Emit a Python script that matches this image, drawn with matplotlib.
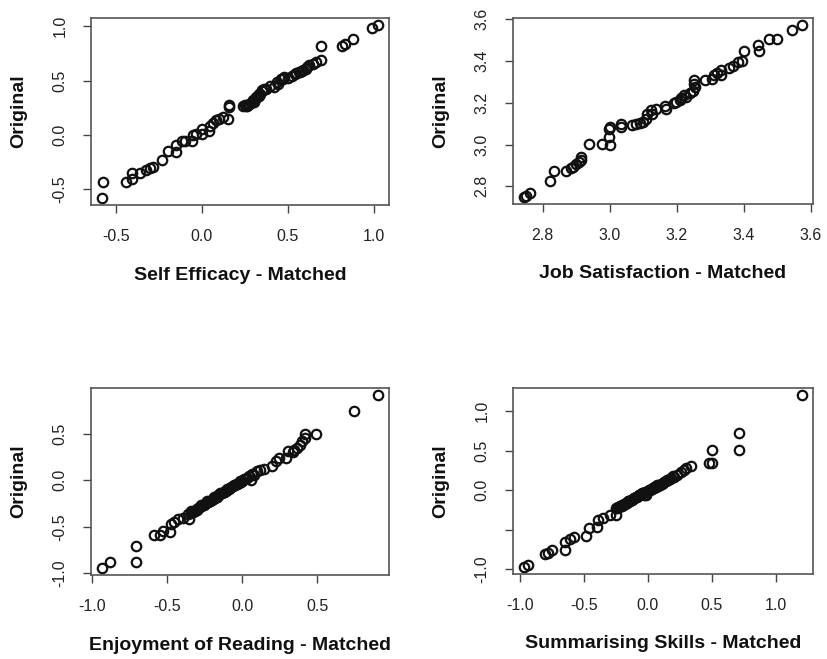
import matplotlib
matplotlib.use("Agg")
import matplotlib.pyplot as plt

plt.rcParams["font.family"] = ["Liberation Sans", "DejaVu Sans"]
plt.rcParams["axes.unicode_minus"] = False

# Self Efficacy
se_matched = [-0.579, -0.573, -0.442, -0.403, -0.403, -0.357, -0.322, -0.303, -0.284, -0.232,
              -0.197, -0.149, -0.149, -0.114, -0.095, -0.056, -0.052, -0.033, 0.002, 0.002,
              0.041, 0.048, 0.064, 0.083, 0.102, 0.122, 0.153, 0.156, 0.156, 0.237,
              0.250, 0.257, 0.270, 0.276, 0.290, 0.295, 0.300, 0.310, 0.315, 0.320,
              0.330, 0.334, 0.349, 0.350, 0.360, 0.373, 0.396, 0.421, 0.436, 0.440,
              0.459, 0.470, 0.479, 0.500, 0.523, 0.542, 0.550, 0.562, 0.570, 0.581,
              0.590, 0.604, 0.610, 0.624, 0.643, 0.662, 0.693, 0.691, 0.817, 0.830,
              0.878, 0.990, 1.023, 0.262, 0.283, 0.305, 0.340]
se_original = [-0.583, -0.433, -0.439, -0.408, -0.353, -0.353, -0.322, -0.304, -0.301, -0.236,
               -0.150, -0.163, -0.095, -0.055, -0.055, -0.055, 0.000, 0.006, 0.006, 0.052,
               0.037, 0.083, 0.113, 0.138, 0.144, 0.160, 0.150, 0.252, 0.273, 0.261,
               0.270, 0.267, 0.278, 0.282, 0.300, 0.313, 0.320, 0.330, 0.344, 0.350,
               0.360, 0.374, 0.414, 0.400, 0.420, 0.426, 0.451, 0.436, 0.482, 0.470,
               0.512, 0.510, 0.528, 0.520, 0.537, 0.558, 0.570, 0.580, 0.580, 0.589,
               0.600, 0.604, 0.620, 0.641, 0.650, 0.672, 0.690, 0.819, 0.819, 0.834,
               0.880, 0.988, 1.012, 0.262, 0.290, 0.300, 0.372]

# Job Satisfaction
js_matched = [2.745, 2.750, 2.764, 2.822, 2.835, 2.871, 2.884, 2.891, 2.901, 2.909,
              2.914, 2.916, 2.938, 2.978, 3.000, 2.998, 2.998, 3.000, 3.033, 3.033,
              3.068, 3.080, 3.089, 3.099, 3.107, 3.111, 3.124, 3.127, 3.139, 3.164,
              3.167, 3.192, 3.199, 3.209, 3.214, 3.221, 3.228, 3.238, 3.248, 3.253,
              3.250, 3.250, 3.283, 3.306, 3.310, 3.320, 3.332, 3.332, 3.355, 3.367,
              3.382, 3.394, 3.400, 3.441, 3.444, 3.474, 3.499, 3.545, 3.573]
js_original = [2.748, 2.752, 2.767, 2.825, 2.875, 2.875, 2.889, 2.894, 2.905, 2.914,
               2.925, 2.941, 3.002, 3.002, 3.000, 3.037, 3.073, 3.084, 3.084, 3.100,
               3.095, 3.100, 3.105, 3.108, 3.124, 3.148, 3.163, 3.148, 3.168, 3.184,
               3.171, 3.200, 3.203, 3.211, 3.222, 3.238, 3.227, 3.248, 3.254, 3.275,
               3.290, 3.311, 3.311, 3.314, 3.333, 3.343, 3.359, 3.333, 3.365, 3.378,
               3.394, 3.400, 3.448, 3.478, 3.446, 3.505, 3.505, 3.549, 3.573]

# Enjoyment of Reading
er_matched = [-0.934, -0.878, -0.708, -0.708, -0.586, -0.546, -0.531, -0.482, -0.476, -0.454,
              -0.431, -0.398, -0.354, -0.365, -0.340, -0.330, -0.318, -0.305, -0.296, -0.285,
              -0.272, -0.262, -0.250, -0.240, -0.228, -0.216, -0.205, -0.195, -0.182, -0.170,
              -0.160, -0.148, -0.136, -0.124, -0.112, -0.100, -0.088, -0.075, -0.062, -0.050,
              -0.038, -0.025, -0.012, 0.000, 0.015, 0.030, 0.044, 0.055, 0.066, 0.100,
              0.144, 0.199, 0.221, 0.243, 0.294, 0.303, 0.343, 0.365, 0.383, 0.398,
              0.414, 0.416, 0.491, 0.746, 0.903,
              -0.345, -0.322, -0.300, -0.278, -0.256, -0.234, -0.212, -0.190, -0.168, -0.146,
              -0.124, -0.102, -0.080, -0.058, -0.036, -0.014, 0.008, 0.080, 0.120, 0.340]
er_original = [-0.943, -0.883, -0.883, -0.705, -0.587, -0.587, -0.544, -0.555, -0.473, -0.448,
               -0.420, -0.402, -0.413, -0.367, -0.352, -0.338, -0.330, -0.318, -0.300, -0.292,
               -0.280, -0.268, -0.255, -0.245, -0.232, -0.220, -0.210, -0.198, -0.186, -0.176,
               -0.162, -0.150, -0.140, -0.126, -0.116, -0.102, -0.092, -0.078, -0.066, -0.054,
               -0.040, -0.028, -0.016, -0.004, 0.010, 0.026, 0.050, 0.007, 0.071, 0.096,
               0.121, 0.149, 0.203, 0.238, 0.238, 0.310, 0.327, 0.345, 0.381, 0.416,
               0.452, 0.498, 0.498, 0.747, 0.915,
               -0.335, -0.330, -0.305, -0.270, -0.262, -0.228, -0.222, -0.182, -0.176, -0.140,
               -0.132, -0.096, -0.088, -0.052, -0.044, -0.008, 0.018, 0.060, 0.110, 0.300]

# Summarising Skills
ss_matched = [-0.966, -0.935, -0.805, -0.779, -0.745, -0.649, -0.649, -0.610, -0.579, -0.481,
              -0.460, -0.395, -0.390, -0.351, -0.299, -0.252, -0.247, -0.232, -0.218, -0.205,
              -0.192, -0.180, -0.168, -0.155, -0.142, -0.130, -0.118, -0.105, -0.092, -0.080,
              -0.068, -0.055, -0.042, -0.030, -0.013, 0.000, 0.015, 0.030, 0.045, 0.060,
              0.078, 0.095, 0.110, 0.125, 0.143, 0.160, 0.180, 0.208, 0.230, 0.260,
              0.280, 0.299, 0.338, 0.475, 0.501, 0.501, 0.709, 0.709, 1.203,
              -0.240, -0.222, -0.200, -0.185, -0.162, -0.148, -0.125, -0.110, -0.088, -0.072,
              -0.050, -0.035, -0.020, 0.008, 0.022, 0.052, 0.070, 0.100, 0.120, 0.150,
              0.170, 0.200]
ss_original = [-0.971, -0.941, -0.808, -0.795, -0.753, -0.753, -0.649, -0.615, -0.586, -0.573,
               -0.481, -0.460, -0.377, -0.356, -0.314, -0.314, -0.230, -0.215, -0.205, -0.190,
               -0.180, -0.168, -0.155, -0.142, -0.130, -0.120, -0.108, -0.095, -0.085, -0.072,
               -0.060, -0.048, -0.035, -0.063, -0.063, -0.010, 0.005, 0.020, 0.035, 0.042,
               0.055, 0.070, 0.085, 0.105, 0.115, 0.130, 0.150, 0.167, 0.190, 0.230,
               0.260, 0.280, 0.305, 0.347, 0.347, 0.510, 0.510, 0.724, 1.205,
               -0.222, -0.212, -0.195, -0.172, -0.158, -0.135, -0.122, -0.100, -0.088, -0.066,
               -0.052, -0.030, -0.022, 0.000, 0.012, 0.030, 0.062, 0.080, 0.098, 0.128,
               0.140, 0.180]

panels = [
    (se_matched, se_original, "Self Efficacy - Matched",
     [-0.5, 0.0, 0.5, 1.0], [-0.5, 0.0, 0.5, 1.0], None),
    (js_matched, js_original, "Job Satisfaction - Matched",
     [2.8, 3.0, 3.2, 3.4, 3.6], [2.8, 3.0, 3.2, 3.4, 3.6], None),
    (er_matched, er_original, "Enjoyment of Reading - Matched",
     [-1.0, -0.5, 0.0, 0.5], [-1.0, -0.5, 0.0, 0.5], None),
    (ss_matched, ss_original, "Summarising Skills - Matched",
     [-1.0, -0.5, 0.0, 0.5, 1.0], [-1.0, -0.5, 0.0, 0.5, 1.0],
     ["-1.0", "", "0.0", "0.5", "1.0"]),
]

# axes boxes in pixels: left, top, right, bottom
boxes = [(91, 18, 389, 205), (513, 18, 813, 204),
         (91, 388, 389, 575), (513, 388, 813, 574)]

W, H = 827, 659
fig = plt.figure(figsize=(W / 100, H / 100), dpi=100)

for (xs, ys, xlabel, xt, yt, ytl), (l, t, r, b) in zip(panels, boxes):
    ax = fig.add_axes([l / W, 1 - b / H, (r - l) / W, (b - t) / H])
    ax.plot(xs, ys, "o", mfc="none", mec="#111111", ms=6.8, mew=1.6, ls="none")
    ax.margins(0.04)
    ax.set_xticks(xt)
    ax.set_xticklabels(["%.1f" % v for v in xt])
    ax.set_yticks(yt)
    ax.set_yticklabels(ytl if ytl else ["%.1f" % v for v in yt],
                       rotation=90, va="center")
    ax.tick_params(direction="out", length=6, width=1, color="#444444",
                   labelsize=11.5, labelcolor="#222222", pad=11)
    for sp in ax.spines.values():
        sp.set_color("#555555")
        sp.set_linewidth(1.2)
    ax.set_xlabel(xlabel, fontsize=14, fontweight="bold", color="#111111")
    ax.xaxis.label.set_va("center")
    ax.xaxis.set_label_coords(0.5, -70 / (b - t))
    ax.set_ylabel("Original", fontsize=14, fontweight="bold", color="#111111")
    ax.yaxis.label.set_va("center")
    ax.yaxis.set_label_coords(-72 / (r - l), 0.5)

fig.savefig("out.png", dpi=100, facecolor="white")
